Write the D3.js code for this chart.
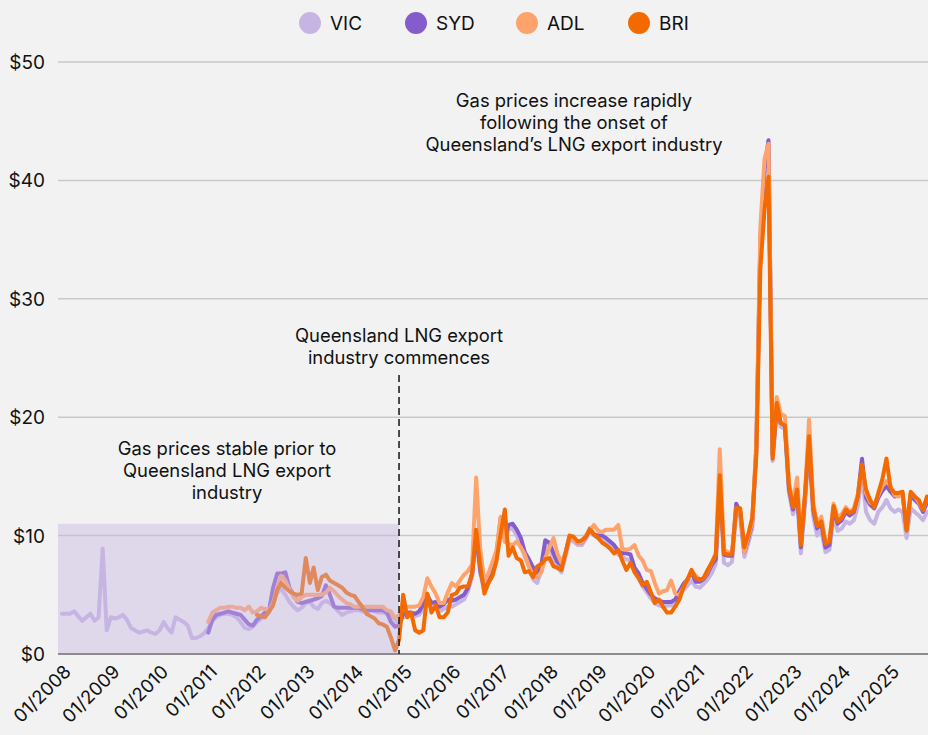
<!DOCTYPE html>
<html>
<head>
<meta charset="utf-8">
<script src="https://cdn.jsdelivr.net/npm/d3@7"></script>
<style>
  html, body { margin: 0; padding: 0; background: #f2f2f2; }
  svg { display: block; font-family: Inter, "Noto Sans", sans-serif; }
</style>
</head>
<body>
<svg id="chart" width="928" height="735"></svg>
<script>
// ---------- DATA (monthly averages, $/GJ) ----------
const seriesNames = ["VIC", "SYD", "ADL", "BRI"];
const seriesColors = ["#c6b5e3", "#855ccc", "#ffa36c", "#f26a00"];
const startVIC = "2008-01-01";
const startSYD = "2011-01-01";
const startADL = "2011-01-01";
const startBRI = "2012-01-01";

const vic = [
  3.4, 3.4, 3.4, 3.6, 3.2, 2.8, 3.1, 3.4, 2.8, 3.1, 8.9, 2.0,
  3.1, 3.0, 3.1, 3.3, 2.9, 2.2, 2.0, 1.8, 1.9, 2.0, 1.8, 1.7,
  2.0, 2.7, 2.2, 1.8, 3.1, 2.9, 2.7, 2.4, 1.35, 1.35, 1.5, 1.75,
  2.2, 2.8, 3.1, 3.3, 3.4, 3.4, 3.3, 3.1, 2.7, 2.2, 2.1, 2.3,
  2.7, 3.0, 3.2, 3.5, 4.3, 5.2, 5.5, 5.0, 4.4, 4.0, 3.7, 3.9,
  4.3, 4.4, 4.0, 3.8, 4.3, 4.5, 4.3, 4.0, 3.6, 3.3, 3.5, 3.6,
  3.7, 3.7, 3.6, 3.6, 3.7, 3.6, 3.5, 3.5, 3.4, 3.3, 2.9, 2.5,
  3.1, 3.2, 3.3, 3.2, 3.3, 3.8, 4.6, 3.9, 4.0, 3.6, 3.8, 4.0,
  4.0, 4.2, 4.4, 4.6, 5.3, 6.5, 10.0, 6.8, 5.3, 6.0, 6.8, 8.2,
  11.2, 9.5, 10.5, 10.6, 10.0, 9.2, 8.2, 7.4, 6.3, 6.0, 7.0, 9.2,
  9.0, 8.0, 7.3, 6.9, 8.2, 9.6, 9.5, 9.2, 9.2, 9.7, 10.3, 10.0,
  9.8, 9.7, 9.5, 9.2, 8.9, 8.4, 8.2, 8.0, 7.9, 7.0, 6.4, 5.7,
  5.2, 4.7, 4.3, 4.1, 4.0, 4.1, 4.1, 4.3, 4.9, 5.4, 5.8, 6.2,
  5.7, 5.6, 5.9, 6.3, 6.8, 7.6, 14.3, 7.7, 7.5, 7.8, 12.0, 11.5,
  8.2, 9.4, 10.6, 17.0, 34.5, 40.5, 43.0, 16.3, 20.5, 19.2, 19.0, 13.6,
  11.8, 13.0, 8.5, 12.7, 17.5, 11.6, 10.0, 10.4, 8.6, 8.8, 11.7, 10.4,
  10.6, 11.2, 11.0, 11.3, 12.5, 15.2, 12.0, 11.3, 11.0, 12.0, 12.4, 13.0,
  12.3, 12.0, 12.2, 12.0, 9.8, 12.3, 12.0, 11.7, 11.3, 12.0
];

const syd = [
  1.8, 2.9, 3.3, 3.4, 3.5, 3.6, 3.5, 3.4, 3.3, 2.9, 2.5, 2.4,
  2.9, 3.2, 3.5, 3.7, 5.6, 6.8, 6.8, 6.9, 5.6, 5.0, 4.4, 4.3,
  4.4, 4.5, 4.6, 4.7, 4.9, 5.8, 5.0, 4.0, 3.9, 3.9, 3.9, 3.9,
  3.9, 3.9, 3.8, 3.7, 3.7, 3.7, 3.7, 3.7, 3.5, 2.7, 2.3, 2.4,
  3.4, 3.5, 3.5, 3.4, 3.6, 4.2, 5.0, 4.3, 4.4, 4.0, 4.2, 4.6,
  4.5, 4.6, 4.8, 5.0, 5.6, 6.8, 10.2, 7.0, 5.6, 6.2, 7.0, 8.5,
  11.5, 9.8, 10.9, 11.0, 10.5, 9.8, 8.6, 8.0, 7.3, 6.5, 7.5, 9.6,
  9.4, 8.5, 7.8, 7.5, 8.5, 9.9, 9.8, 9.4, 9.4, 9.9, 10.6, 10.1,
  10.0, 10.0, 9.8, 9.5, 9.2, 8.7, 8.5, 8.5, 8.4, 7.3, 6.8, 6.0,
  5.5, 5.0, 4.7, 4.5, 4.4, 4.4, 4.4, 4.6, 5.3, 5.9, 6.3, 6.9,
  6.1, 6.1, 6.3, 6.8, 7.5, 8.0, 14.8, 8.4, 8.3, 8.3, 12.7, 12.0,
  8.6, 9.8, 11.0, 17.5, 35.0, 41.0, 43.4, 16.8, 20.8, 19.5, 19.3, 14.0,
  12.2, 13.6, 9.0, 13.3, 18.2, 12.2, 10.6, 11.0, 9.0, 9.2, 12.3, 11.0,
  11.3, 12.0, 11.7, 12.0, 13.4, 16.5, 13.2, 12.6, 12.3, 13.2, 13.8, 14.2,
  13.7, 13.3, 13.4, 13.5, 10.5, 13.4, 13.0, 12.7, 12.0, 12.8
];

const adl = [
  2.7, 3.5, 3.7, 3.9, 3.9, 4.0, 4.0, 3.9, 3.9, 3.7, 4.0, 3.5,
  3.6, 3.9, 3.8, 3.7, 4.3, 5.6, 6.6, 6.2, 5.5, 4.8, 4.5, 4.8,
  5.0, 5.0, 5.0, 5.0, 5.0, 5.2, 5.6, 5.3, 4.9, 4.6, 4.3, 4.2,
  4.0, 4.0, 4.0, 4.0, 4.0, 4.0, 4.0, 4.0, 3.7, 3.6, 3.0, 3.3,
  3.9, 4.0, 4.0, 4.0, 4.1, 4.8, 6.4, 5.7, 5.1, 4.3, 4.3, 5.2,
  6.0, 5.7, 6.2, 6.7, 7.0, 7.6, 14.9, 8.8, 6.1, 6.8, 7.8, 8.8,
  11.6, 9.5, 9.3, 9.2, 9.5, 9.0, 8.4, 7.4, 6.6, 6.5, 6.9, 8.1,
  9.0, 9.8, 8.5, 7.7, 8.5, 10.0, 9.7, 9.4, 9.4, 10.0, 10.5, 10.9,
  10.4, 10.3, 10.5, 10.5, 10.5, 10.9, 8.9, 8.8, 8.9, 9.2, 8.3, 7.9,
  7.1, 7.0, 6.0, 5.1, 5.3, 5.4, 6.2, 5.1, 5.0, 5.6, 6.3, 7.0,
  6.6, 6.3, 6.4, 7.0, 7.7, 8.5, 17.3, 8.8, 8.6, 8.6, 12.3, 12.0,
  8.6, 10.0, 11.1, 18.0, 36.0, 41.8, 43.1, 17.0, 21.7, 20.3, 20.1, 14.5,
  12.8, 14.9, 9.5, 13.5, 19.8, 12.8, 11.0, 11.6, 9.5, 9.7, 12.7, 11.5,
  11.8, 12.4, 12.0, 12.3, 13.5, 15.6, 13.6, 12.8, 12.6, 13.4, 14.2, 14.6,
  14.2, 13.4, 13.3, 13.5, 10.8, 13.6, 13.3, 12.8, 12.2, 13.2
];

const bri = [
  3.3, 3.2, 3.1, 3.6, 4.1, 5.4, 6.0, 5.6, 5.3, 5.1, 5.0, 5.1,
  8.1, 6.0, 7.3, 5.4, 6.5, 6.7, 6.2, 6.0, 5.8, 5.6, 5.2, 5.0,
  4.9, 4.4, 4.0, 3.4, 3.2, 3.0, 2.6, 2.5, 2.3, 1.4, 0.3, 1.2,
  5.0, 3.1, 3.5, 2.0, 1.8, 2.0, 5.1, 3.5, 4.1, 3.1, 3.1, 3.5,
  5.0, 5.1, 5.6, 5.7, 5.7, 6.8, 10.5, 7.4, 5.1, 6.0, 6.6, 7.9,
  10.2, 12.2, 8.3, 9.0, 8.1, 7.9, 6.9, 7.0, 6.5, 7.4, 7.6, 8.0,
  8.1, 7.4, 7.3, 7.1, 8.5, 10.0, 9.9, 9.5, 9.6, 9.9, 10.5, 10.1,
  9.8, 9.4, 9.2, 8.9, 8.5, 8.8, 7.9, 7.1, 7.7, 6.9, 6.4, 5.8,
  6.1, 5.2, 4.3, 4.6, 4.0, 3.5, 3.5, 4.0, 4.6, 5.6, 6.3, 7.1,
  6.4, 6.3, 6.4, 7.1, 7.7, 8.4, 15.1, 8.5, 8.4, 8.4, 12.3, 12.3,
  9.0, 10.2, 11.5, 16.9, 32.5, 37.5, 40.3, 16.5, 21.2, 19.5, 19.3, 14.2,
  12.4, 13.9, 9.2, 13.6, 18.4, 12.4, 10.8, 11.2, 9.3, 9.5, 12.5, 11.2,
  11.5, 12.2, 11.9, 12.1, 13.3, 16.0, 13.9, 13.0, 12.4, 13.6, 14.8, 16.5,
  14.0, 13.6, 13.6, 13.7, 10.4, 13.7, 13.3, 13.0, 12.2, 13.3
];

const yTicks = [0, 10, 20, 30, 40, 50];
const xTickYears = d3.range(2008, 2026);
const lngStart = "2014-12-01";
const shadeTop = 11;
const annotations = [
  { lines: ["Gas prices stable prior to", "Queensland LNG export", "industry"], x: 227, y: 455 },
  { lines: ["Queensland LNG export", "industry commences"], x: 399, y: 342 },
  { lines: ["Gas prices increase rapidly", "following the onset of", "Queensland\u2019s LNG export industry"], x: 574, y: 107 }
];

// ---------- CHART ----------
const parse = d3.timeParse("%Y-%m-%d");
function toPoints(start, vals) {
  const s = parse(start);
  return vals.map((v, i) => ({ date: d3.timeMonth.offset(s, i), value: v }));
}
const allSeries = [
  toPoints(startVIC, vic),
  toPoints(startSYD, syd),
  toPoints(startADL, adl),
  toPoints(startBRI, bri)
];

const svg = d3.select("#chart");
const x = d3.scaleTime()
  .domain([parse("2008-01-01"), parse("2025-10-01")])
  .range([62, 927]);
const y = d3.scaleLinear().domain([0, 50]).range([654, 62]);

// gridlines
svg.append("g").selectAll("line").data(yTicks.filter(d => d > 0)).join("line")
  .attr("x1", 58).attr("x2", 928)
  .attr("y1", d => y(d)).attr("y2", d => y(d))
  .attr("stroke", "#c9c9c9").attr("stroke-width", 1.5);

// y labels
svg.append("g").selectAll("text").data(yTicks).join("text")
  .attr("x", 45).attr("y", d => y(d) + 7)
  .attr("text-anchor", "end")
  .attr("font-size", 19).attr("fill", "#111")
  .text(d => "$" + d);

// lines
const line = d3.line().x(d => x(d.date)).y(d => y(d.value)).curve(d3.curveLinear);
svg.append("g").selectAll("path").data(allSeries).join("path")
  .attr("d", line)
  .attr("fill", "none")
  .attr("stroke", (d, i) => seriesColors[i])
  .attr("stroke-width", 4)
  .attr("stroke-linejoin", "round")
  .attr("stroke-linecap", "round");

// shaded pre-LNG region (overlay)
const xLng = x(parse(lngStart));
svg.append("rect")
  .attr("x", 58).attr("y", y(shadeTop))
  .attr("width", xLng - 58).attr("height", y(0) - y(shadeTop))
  .attr("fill", "#c5b4e3").attr("opacity", 0.42);

// baseline
svg.append("line")
  .attr("x1", 58).attr("x2", 928).attr("y1", y(0)).attr("y2", y(0))
  .attr("stroke", "#8c8c8c").attr("stroke-width", 2);

// dashed marker
svg.append("line")
  .attr("x1", xLng).attr("x2", xLng).attr("y1", 375).attr("y2", y(0))
  .attr("stroke", "#222").attr("stroke-width", 1.6)
  .attr("stroke-dasharray", "7,4");

// x labels
svg.append("g").selectAll("text").data(xTickYears).join("text")
  .attr("transform", d => `translate(${x(new Date(d, 0, 1)) + 10},${673}) rotate(-45)`)
  .attr("text-anchor", "end")
  .attr("font-size", 18.5).attr("fill", "#111")
  .text(d => "01/" + d);

// annotations
annotations.forEach(a => {
  const t = svg.append("text").attr("text-anchor", "middle")
    .attr("font-size", 18.4).attr("fill", "#111");
  a.lines.forEach((l, i) => {
    t.append("tspan").attr("x", a.x).attr("y", a.y + i * 22).text(l);
  });
});

// legend
const legendX = [310, 416, 527, 639];
const lg = svg.append("g").selectAll("g").data(seriesNames).join("g")
  .attr("transform", (d, i) => `translate(${legendX[i]},23)`);
lg.append("circle").attr("r", 11).attr("fill", (d, i) => seriesColors[i]);
lg.append("text").attr("x", 20).attr("y", 7)
  .attr("font-size", 19).attr("fill", "#111").text(d => d);
</script>
</body>
</html>
